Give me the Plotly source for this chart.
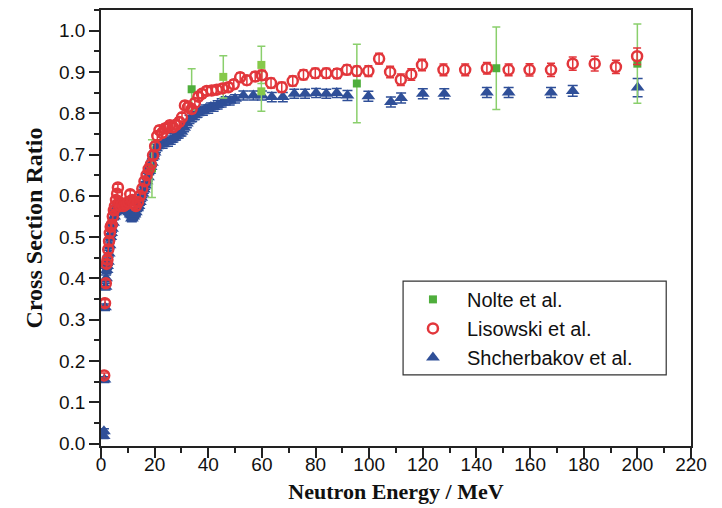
import plotly.graph_objects as go

# ---------------- data ----------------
nolte_E = [19.0, 33.8, 45.6, 59.8, 59.8, 95.4, 147.4, 200.0]
nolte_R = [0.666, 0.858, 0.888, 0.917, 0.853, 0.872, 0.909, 0.920]
nolte_err = [0.070, 0.050, 0.051, 0.045, 0.048, 0.095, 0.100, 0.096]

lis_E = [1.2, 1.5, 1.8, 2.1, 2.4, 2.7, 3.0, 3.3, 3.6, 4.0, 4.4, 4.8, 5.2, 5.6, 6.0,
         6.3, 6.8, 7.3, 7.8, 8.4, 9.0, 9.6, 10.2, 10.9, 11.6, 12.3, 13.0, 13.8, 14.6,
         15.4, 16.2, 17.0, 17.8, 18.6, 19.4, 20.2, 21.0, 21.8, 22.8, 23.9, 24.8, 25.7,
         26.8, 28.0, 29.2, 30.2, 31.3, 32.5, 33.8, 35.0, 36.3, 37.6, 39.4, 41.3, 43.2,
         45.3, 47.5, 49.5, 51.9, 54.4, 57.5, 60.0, 63.4, 67.4, 71.5, 75.5, 79.9, 84.0,
         88.0, 91.7, 95.4, 99.7, 103.7, 107.8, 111.8, 115.7, 119.7, 127.7, 135.8,
         143.9, 152.0, 159.8, 167.8, 175.9, 184.1, 192.0, 199.9]
lis_R = [0.165, 0.340, 0.388, 0.435, 0.445, 0.470, 0.490, 0.510, 0.525, 0.530, 0.550,
         0.565, 0.575, 0.590, 0.605, 0.620, 0.585, 0.575, 0.580, 0.575, 0.580, 0.580,
         0.585, 0.604, 0.590, 0.580, 0.575, 0.585, 0.600, 0.617, 0.635, 0.650, 0.665,
         0.676, 0.698, 0.720, 0.745, 0.759, 0.752, 0.763, 0.765, 0.771, 0.766, 0.772,
         0.779, 0.790, 0.819, 0.815, 0.810, 0.825, 0.840, 0.847, 0.854, 0.855, 0.857,
         0.860, 0.863, 0.870, 0.887, 0.880, 0.889, 0.892, 0.873, 0.863, 0.878, 0.893,
         0.897, 0.897, 0.896, 0.905, 0.902, 0.902, 0.932, 0.900, 0.881, 0.894, 0.917,
         0.905, 0.905, 0.909, 0.905, 0.905, 0.905, 0.920, 0.920, 0.912, 0.938]
lis_err = [0.006, 0.008, 0.008, 0.008, 0.008, 0.008, 0.008, 0.008, 0.008, 0.008, 0.008,
           0.008, 0.008, 0.008, 0.008, 0.008, 0.008, 0.008, 0.008, 0.008, 0.008, 0.008,
           0.008, 0.008, 0.008, 0.008, 0.008, 0.008, 0.008, 0.009, 0.009, 0.009, 0.009,
           0.009, 0.009, 0.009, 0.010, 0.010, 0.010, 0.010, 0.010, 0.010, 0.010, 0.010,
           0.010, 0.010, 0.010, 0.010, 0.010, 0.010, 0.010, 0.010, 0.010, 0.010, 0.010,
           0.010, 0.010, 0.011, 0.011, 0.011, 0.011, 0.012, 0.012, 0.012, 0.012, 0.012,
           0.012, 0.012, 0.012, 0.012, 0.012, 0.013, 0.013, 0.014, 0.014, 0.014, 0.014,
           0.014, 0.014, 0.014, 0.014, 0.015, 0.016, 0.016, 0.018, 0.016, 0.020]

sch_E = [1.0, 1.1, 1.3, 1.5, 1.7, 1.9, 2.1, 2.3, 2.6, 2.9, 3.2, 3.5, 3.8, 4.1, 4.5, 4.9,
         5.3, 5.7, 6.1, 6.5, 7.0, 7.5, 8.0, 8.5, 9.0, 9.5, 10.0, 10.5, 11.0, 11.5, 12.0,
         12.5, 13.0, 13.5, 14.0, 14.5, 15.0, 15.5, 16.0, 16.5, 17.0, 17.5, 18.0, 18.5,
         19.0, 19.5, 20.0, 20.5, 21.0, 22.0, 23.0, 24.0, 25.0, 26.0, 27.0, 28.0, 29.0,
         30.0, 31.0, 32.0, 33.0, 34.0, 35.0, 36.0, 37.0, 38.0, 39.0, 40.0, 41.0, 42.0,
         43.5, 45.0, 46.5, 48.0, 50.0, 53.1, 56.8, 60.0, 63.7, 67.8, 72.1, 76.1, 80.2,
         84.0, 87.9, 91.9, 99.7, 108.1, 111.9, 120.0, 128.0, 143.9, 152.0, 167.8, 175.9,
         200.1]
sch_R = [0.018, 0.030, 0.155, 0.330, 0.380, 0.400, 0.420, 0.430, 0.440, 0.460, 0.480,
         0.500, 0.510, 0.520, 0.535, 0.550, 0.560, 0.570, 0.575, 0.580, 0.575, 0.570,
         0.570, 0.565, 0.570, 0.575, 0.570, 0.560, 0.555, 0.545, 0.550, 0.555, 0.560,
         0.570, 0.575, 0.585, 0.595, 0.605, 0.615, 0.625, 0.635, 0.645, 0.660, 0.670,
         0.680, 0.695, 0.705, 0.715, 0.720, 0.725, 0.725, 0.730, 0.730, 0.735, 0.740,
         0.745, 0.750, 0.755, 0.765, 0.775, 0.785, 0.790, 0.795, 0.800, 0.805, 0.805,
         0.810, 0.810, 0.815, 0.815, 0.820, 0.825, 0.830, 0.830, 0.835, 0.843, 0.843,
         0.843, 0.839, 0.839, 0.847, 0.847, 0.849, 0.847, 0.849, 0.843, 0.841, 0.827,
         0.837, 0.847, 0.847, 0.850, 0.850, 0.850, 0.854, 0.862]
sch_err = [0.006, 0.006, 0.007, 0.008, 0.008, 0.008, 0.008, 0.008, 0.008, 0.008, 0.008,
           0.008, 0.008, 0.008, 0.008, 0.008, 0.008, 0.008, 0.008, 0.008, 0.008, 0.008,
           0.008, 0.008, 0.008, 0.008, 0.008, 0.008, 0.008, 0.008, 0.008, 0.008, 0.008,
           0.008, 0.008, 0.008, 0.009, 0.009, 0.009, 0.009, 0.009, 0.009, 0.009, 0.009,
           0.009, 0.009, 0.010, 0.010, 0.010, 0.010, 0.010, 0.010, 0.010, 0.010, 0.010,
           0.010, 0.010, 0.010, 0.010, 0.010, 0.010, 0.010, 0.010, 0.010, 0.010, 0.010,
           0.010, 0.010, 0.010, 0.010, 0.010, 0.010, 0.010, 0.010, 0.010, 0.011, 0.011,
           0.011, 0.011, 0.011, 0.011, 0.011, 0.011, 0.011, 0.011, 0.012, 0.012, 0.012,
           0.012, 0.012, 0.012, 0.012, 0.012, 0.012, 0.013, 0.022]

x_tickvals = [0, 20, 40, 60, 80, 100, 120, 140, 160, 180, 200, 220]
y_tickvals = [0.0, 0.1, 0.2, 0.3, 0.4, 0.5, 0.6, 0.7, 0.8, 0.9, 1.0]

# ---------------- styles ----------------
RED = "#E2363B"
BLUE = "#2F4F98"
GREEN = "#4FAE3C"
GREEN_LIGHT = "#86C94A"
GREEN_BAR = "#8ACF6C"
nolte_colors = [GREEN, GREEN, GREEN_LIGHT, GREEN_LIGHT, GREEN_LIGHT, GREEN, GREEN, GREEN]

fig = go.Figure()

fig.add_trace(go.Scatter(
    x=sch_E, y=sch_R, mode="markers", name="Shcherbakov et al.", legendrank=3,
    marker=dict(symbol="triangle-up", size=12, color=BLUE, line=dict(width=0)),
    error_y=dict(type="data", array=sch_err, visible=True, color=BLUE, thickness=1.5, width=5),
))
fig.add_trace(go.Scatter(
    x=nolte_E, y=nolte_R, mode="markers", name="Nolte et al.", legendrank=1,
    marker=dict(symbol="square", size=8, color=nolte_colors, line=dict(width=0)),
    error_y=dict(type="data", array=nolte_err, visible=True, color=GREEN_BAR, thickness=1.5, width=4),
))
fig.add_trace(go.Scatter(
    x=lis_E, y=lis_R, mode="markers", name="Lisowski et al.", legendrank=2,
    marker=dict(symbol="circle-open", size=10, color=RED, line=dict(width=2.5, color=RED)),
    error_y=dict(type="data", array=lis_err, visible=True, color=RED, thickness=1.5, width=4),
))

tick_font = dict(family="Liberation Sans, Arial, sans-serif", size=19, color="#111")
title_font_family = "Liberation Serif, Times New Roman, serif"
axis_common = dict(showgrid=False, zeroline=False, showline=True, linecolor="#222",
                   linewidth=1.5, mirror=True, ticks="outside", ticklen=10, tickwidth=1.5,
                   tickcolor="#222", tickfont=tick_font, automargin=False)

Y_RANGE = [-0.006, 1.05]

fig.update_layout(
    width=722, height=508,
    margin=dict(l=101, r=31, t=10, b=62),
    paper_bgcolor="white", plot_bgcolor="white",
    xaxis=dict(range=[0, 220], tickvals=x_tickvals,
               ticktext=[str(v) for v in x_tickvals], ticklabelstandoff=-10,
               minor=dict(dtick=10, tick0=0, ticks="outside", ticklen=5, tickwidth=1.5, tickcolor="#222"),
               title=dict(text="Neutron Energy / MeV", standoff=10,
                          font=dict(family=title_font_family, size=22, color="#111", weight="bold")),
               **axis_common),
    yaxis=dict(range=Y_RANGE, tickvals=y_tickvals,
               ticktext=[f"{v:.1f}" for v in y_tickvals],
               minor=dict(dtick=0.05, tick0=0, ticks="outside", ticklen=5, tickwidth=1.5, tickcolor="#222"),
               title=dict(text="Cross Section Ratio", standoff=10,
                          font=dict(family=title_font_family, size=24, color="#111", weight="bold")),
               **axis_common),
    xaxis2=dict(range=[0, 220], overlaying="x", side="top", anchor="y", tickvals=x_tickvals,
                showticklabels=False, ticks="inside", ticklen=10, tickwidth=1.5, tickcolor="#222",
                minor=dict(dtick=10, tick0=0, ticks="inside", ticklen=5, tickwidth=1.5, tickcolor="#222"),
                showgrid=False, zeroline=False, showline=False),
    yaxis2=dict(range=Y_RANGE, overlaying="y", side="right", anchor="x", tickvals=y_tickvals,
                showticklabels=False, ticks="inside", ticklen=10, tickwidth=1.5, tickcolor="#222",
                minor=dict(dtick=0.05, tick0=0, ticks="inside", ticklen=5, tickwidth=1.5, tickcolor="#222"),
                showgrid=False, zeroline=False, showline=False),
    showlegend=True,
    legend=dict(x=0.505, y=0.381, xanchor="left", yanchor="top", bgcolor="rgba(0,0,0,0)",
                borderwidth=0, itemwidth=58, traceorder="normal",
                font=dict(family="Liberation Sans, Arial, sans-serif", size=20, color="#111")),
    shapes=[dict(type="rect", xref="paper", yref="paper", x0=0.512, x1=0.958, y0=0.163, y1=0.378,
                 line=dict(color="#333", width=1.2), fillcolor="rgba(0,0,0,0)", layer="above")],
)

fig.write_html("out.html")
